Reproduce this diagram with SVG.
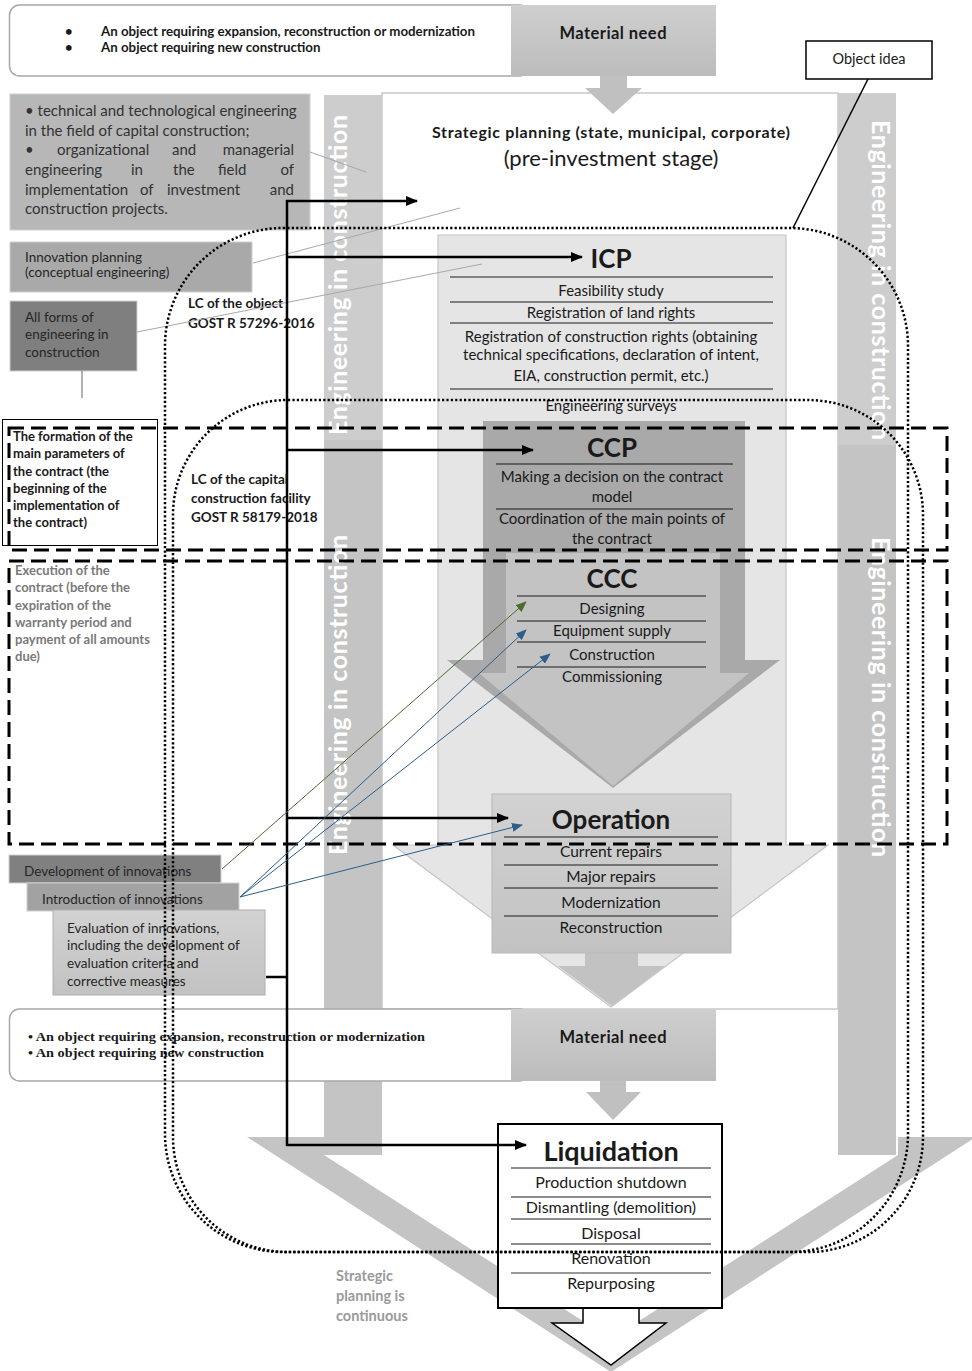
<svg xmlns="http://www.w3.org/2000/svg" width="972" height="1371" viewBox="0 0 972 1371">
<defs>
<style>
text{font-family:Lato,"Liberation Sans",sans-serif;fill:#1a1a1a}
.b{font-weight:bold}
.c{text-anchor:middle}
.e{text-anchor:end}
.bar{font-weight:bold;fill:#ffffff;font-size:25px;text-anchor:middle}
.hr{stroke:#1a1a1a;stroke-width:1}
.dot{fill:none;stroke:#000;stroke-width:2.5;stroke-dasharray:2.2 2.2}
.dash{fill:none;stroke:#000;stroke-width:3;stroke-dasharray:15 7}
.conn{fill:none;stroke:#000;stroke-width:2.5}
.thin{fill:none;stroke:#a8a8a8;stroke-width:1}
.grey{fill:#c4c4c4}
.lt{font-size:15px}
.box{stroke:#d0d0d0;stroke-width:1}
.s13{font-size:13.5px;fill:#262626}
.fb{font-size:13px;font-weight:bold}
.serif{font-family:"Liberation Serif",serif;font-weight:bold;font-size:13.5px}
.gr{font-weight:bold;font-size:14.5px;fill:#9a9a9a}
</style>
<linearGradient id="mg" x1="0" y1="0" x2="0" y2="1"><stop offset="0" stop-color="#cfcfcf"/><stop offset="1" stop-color="#bcbcbc"/></linearGradient>
<linearGradient id="eg" x1="0" y1="0" x2="0" y2="1"><stop offset="0" stop-color="#d2d2d2"/><stop offset="1" stop-color="#c2c2c2"/></linearGradient>
<marker id="ab" markerWidth="12" markerHeight="10" refX="11" refY="5" orient="auto" markerUnits="userSpaceOnUse"><path d="M0,0 L12,5 L0,10 Z" fill="#000"/></marker>
<marker id="ag" markerWidth="11" markerHeight="9" refX="10" refY="4.5" orient="auto" markerUnits="userSpaceOnUse"><path d="M0,0 L11,4.5 L0,9 Z" fill="#4e6b2e"/></marker>
<marker id="abl" markerWidth="11" markerHeight="9" refX="10" refY="4.5" orient="auto" markerUnits="userSpaceOnUse"><path d="M0,0 L11,4.5 L0,9 Z" fill="#2e5d8c"/></marker>
</defs>
<rect width="972" height="1371" fill="#ffffff"/>

<g id="frame">
<rect x="382" y="93" width="456" height="916" fill="#ffffff" stroke="#c8c8c8" stroke-width="1.5"/>
<rect x="324" y="95" width="58" height="1060" class="grey"/>
<rect x="324" y="95" width="58" height="345" fill="#cdcdcd"/>
<rect x="838" y="93" width="58" height="1062" class="grey"/>
<rect x="838" y="93" width="58" height="352" fill="#cdcdcd"/>
<path d="M247,1137 L324,1137 L324,1155 L611,1339 L898,1155 L898,1137 L976,1137 L611,1372 Z" class="grey"/>
</g>

<g id="icp">
<path d="M438,235 L786,235 L786,845 L828,845 L611,1007 L393,845 L438,845 Z" fill="#e5e5e5" stroke="#c6c6c6" stroke-width="1.2"/>
<text x="611" y="268" class="c b" font-size="26">ICP</text>
<line x1="450" y1="277" x2="773" y2="277" class="hr"/>
<text x="611" y="296" class="c lt">Feasibility study</text>
<line x1="450" y1="302" x2="773" y2="302" class="hr"/>
<text x="611" y="318" class="c lt">Registration of land rights</text>
<line x1="450" y1="323" x2="773" y2="323" class="hr"/>
<text x="611" y="342" class="c lt">Registration of construction rights (obtaining</text>
<text x="611" y="360" class="c lt">technical specifications, declaration of intent,</text>
<text x="611" y="381" class="c lt">EIA, construction permit, etc.)</text>
<line x1="450" y1="389" x2="773" y2="389" class="hr"/>
<text x="611" y="411" class="c lt">Engineering surveys</text>
</g>

<g id="ccp">
<path d="M483,421 L745,421 L745,660 L780,660 L613,788 L447,660 L483,660 Z" fill="#a9a9a9"/>
<text x="612" y="457" class="c b" font-size="26">CCP</text>
<line x1="496" y1="464" x2="733" y2="464" class="hr"/>
<text x="612" y="482" class="c lt">Making a decision on the contract</text>
<text x="612" y="502" class="c lt">model</text>
<line x1="496" y1="509" x2="733" y2="509" class="hr"/>
<text x="612" y="524" class="c lt">Coordination of the main points of</text>
<text x="612" y="544" class="c lt">the contract</text>
</g>

<g id="ccc">
<path d="M506,553 L720,553 L720,673 L749,673 L613,786 L479,673 L506,673 Z" fill="#c3c3c3"/>
<text x="612" y="588" class="c b" font-size="26">CCC</text>
<line x1="517" y1="596" x2="706" y2="596" class="hr"/>
<text x="612" y="614" class="c lt">Designing</text>
<line x1="517" y1="621" x2="706" y2="621" class="hr"/>
<text x="612" y="636" class="c lt">Equipment supply</text>
<line x1="517" y1="642" x2="706" y2="642" class="hr"/>
<text x="612" y="660" class="c lt">Construction</text>
<line x1="517" y1="667" x2="706" y2="667" class="hr"/>
<text x="612" y="682" class="c lt">Commissioning</text>
</g>

<g id="operation">
<path d="M585,953 L638,953 L638,966 L665,966 L612,1006 L558,966 L585,966 Z" fill="#c2c2c2"/>
<rect x="492" y="794" width="239" height="159" fill="url(#eg)" stroke="#b8b8b8" stroke-width="1"/>
<text x="611" y="829" class="c b" font-size="26">Operation</text>
<line x1="504" y1="837" x2="718" y2="837" class="hr"/>
<text x="611" y="857" class="c" font-size="15.5">Current repairs</text>
<line x1="504" y1="865" x2="718" y2="865" class="hr"/>
<text x="611" y="882" class="c" font-size="15.5">Major repairs</text>
<line x1="504" y1="888" x2="718" y2="888" class="hr"/>
<text x="611" y="908" class="c" font-size="15.5">Modernization</text>
<line x1="504" y1="916" x2="718" y2="916" class="hr"/>
<text x="611" y="933" class="c" font-size="15.5">Reconstruction</text>
</g>

<g id="strategic">
<text x="611" y="138" class="c b" font-size="16" textLength="358">Strategic planning (state, municipal, corporate)</text>
<text x="611" y="166" class="c" font-size="22">(pre-investment stage)</text>
</g>

<g id="material-top">
<rect x="9.5" y="5" width="520" height="71" rx="10" fill="#ffffff" stroke="#a8a8a8" stroke-width="1.5"/>
<rect x="511" y="5" width="205" height="71" fill="url(#mg)"/>
<path d="M600,76 L627,76 L627,88 L642,88 L613,114 L585,88 L600,88 Z" fill="#c0c0c0"/>
<text x="613" y="39" class="c b" font-size="16.5" textLength="107">Material need</text>
<text x="65" y="36" class="b" font-size="13">•</text>
<text x="65" y="52" class="b" font-size="13">•</text>
<text x="101" y="36" class="b" font-size="13.3" textLength="374">An object requiring expansion, reconstruction or modernization</text>
<text x="101" y="52" class="b" font-size="13.3">An object requiring new construction</text>
</g>

<g id="object-idea">
<rect x="806" y="41" width="126" height="38" fill="#ffffff" stroke="#000" stroke-width="1.5"/>
<text x="869" y="64" class="c" font-size="14.5">Object idea</text>
</g>

<g id="material-bottom">
<rect x="9.5" y="1009" width="520" height="72" rx="10" fill="#ffffff" stroke="#a8a8a8" stroke-width="1.5"/>
<rect x="511" y="1009" width="205" height="72" fill="url(#mg)"/>
<path d="M600,1081 L626,1081 L626,1092 L641,1092 L613,1120 L586,1092 L600,1092 Z" fill="#c0c0c0"/>
<text x="613" y="1043" class="c b" font-size="16.5" textLength="107">Material need</text>
<text x="28" y="1041" class="serif" textLength="397" lengthAdjust="spacingAndGlyphs">• An object requiring expansion, reconstruction or modernization</text>
<text x="28" y="1057" class="serif" textLength="236" lengthAdjust="spacingAndGlyphs">• An object requiring new construction</text>
</g>

<g id="liquidation">
<path d="M583,1308 L583,1323 L552,1323 L611,1365 L666,1323 L639,1323 L639,1308" fill="#ffffff" stroke="#000" stroke-width="1.5"/>
<rect x="498" y="1124" width="224" height="184" fill="#ffffff" stroke="#000" stroke-width="2"/>
<text x="611" y="1161" class="c b" font-size="27">Liquidation</text>
<line x1="511" y1="1168" x2="711" y2="1168" class="hr"/>
<text x="611" y="1188" class="c" font-size="16">Production shutdown</text>
<line x1="511" y1="1197" x2="711" y2="1197" class="hr"/>
<text x="611" y="1213" class="c" font-size="16">Dismantling (demolition)</text>
<line x1="511" y1="1219" x2="711" y2="1219" class="hr"/>
<text x="611" y="1239" class="c" font-size="16">Disposal</text>
<line x1="511" y1="1244" x2="711" y2="1244" class="hr"/>
<text x="611" y="1264" class="c" font-size="16">Renovation</text>
<line x1="511" y1="1273" x2="711" y2="1273" stroke="#777" stroke-width="1.5"/>
<text x="611" y="1289" class="c" font-size="16">Repurposing</text>
</g>

<g id="continuous">
<text x="336" y="1281" class="gr">Strategic</text>
<text x="336" y="1301" class="gr">planning is</text>
<text x="336" y="1321" class="gr">continuous</text>
</g>

<g id="engineering-types">
<rect x="10" y="94" width="300" height="136" fill="#b7b7b7" class="box"/>
<text x="25" y="116" font-size="15" style="fill:#333">• technical and technological engineering</text>
<text x="25" y="136" font-size="15" style="fill:#333">in the field of capital construction;</text>
<text y="155" font-size="15" style="fill:#333"><tspan x="25">•</tspan><tspan x="57">organizational</tspan><tspan x="172">and</tspan></text>
<text x="294" y="155" font-size="15" class="e" style="fill:#333">managerial</text>
<text y="175" font-size="15" style="fill:#333"><tspan x="25">engineering</tspan><tspan x="131">in</tspan><tspan x="173">the</tspan><tspan x="218">field</tspan></text>
<text x="294" y="175" font-size="15" class="e" style="fill:#333">of</text>
<text y="195" font-size="15" style="fill:#333"><tspan x="25">implementation</tspan><tspan x="140">of</tspan><tspan x="167">investment</tspan></text>
<text x="294" y="195" font-size="15" class="e" style="fill:#333">and</text>
<text x="25" y="214" font-size="15" style="fill:#333">construction projects.</text>
</g>

<g id="innovation-planning">
<rect x="10" y="242" width="242" height="50" fill="#a9a9a9" class="box"/>
<text x="25" y="262" class="s13">Innovation planning</text>
<text x="25" y="277" class="s13">(conceptual engineering)</text>
</g>

<g id="all-forms">
<rect x="10" y="301" width="127" height="70" fill="#7f7f7f" class="box"/>
<text x="25" y="322" class="s13">All forms of</text>
<text x="25" y="339" class="s13">engineering in</text>
<text x="25" y="357" class="s13">construction</text>
<line x1="82" y1="371" x2="82" y2="398" stroke="#7f7f7f" stroke-width="1.2"/>
</g>

<g id="formation">
<rect x="2.5" y="419.5" width="155" height="126" fill="#ffffff" stroke="#000" stroke-width="1"/>
<text x="13" y="441" class="fb">The formation of the</text>
<text x="13" y="458" class="fb">main parameters of</text>
<text x="13" y="476" class="fb">the contract (the</text>
<text x="13" y="493" class="fb">beginning of the</text>
<text x="13" y="510" class="fb">implementation of</text>
<text x="13" y="527" class="fb">the contract)</text>
</g>

<g id="execution">
<text x="15" y="575" class="fb" style="fill:#7a7a7a">Execution of the</text>
<text x="15" y="592" class="fb" style="fill:#7a7a7a">contract (before the</text>
<text x="15" y="610" class="fb" style="fill:#7a7a7a">expiration of the</text>
<text x="15" y="627" class="fb" style="fill:#7a7a7a">warranty period and</text>
<text x="15" y="644" class="fb" style="fill:#7a7a7a">payment of all amounts</text>
<text x="15" y="661" class="fb" style="fill:#7a7a7a">due)</text>
</g>

<g id="lc-labels">
<text x="188" y="308" class="b" font-size="13.5">LC of the object</text>
<text x="188" y="328" class="b" font-size="13.5">GOST R 57296-2016</text>
<text x="191" y="484" class="b" font-size="13.5">LC of the capital</text>
<text x="191" y="503" class="b" font-size="13.5">construction facility</text>
<text x="191" y="522" class="b" font-size="13.5">GOST R 58179-2018</text>
</g>

<g id="innovations">
<rect x="9" y="855" width="212" height="28" fill="#808080" class="box"/>
<text x="24" y="876" class="s13">Development of innovations</text>
<rect x="27" y="883" width="212" height="28" fill="#a2a2a2" class="box"/>
<text x="42" y="904" class="s13">Introduction of innovations</text>
<rect x="53" y="910" width="212" height="85" fill="url(#eg)" stroke="#b0b0b0" stroke-width="1"/>
<text x="67" y="933" class="s13">Evaluation of innovations,</text>
<text x="67" y="950" class="s13">including the development of</text>
<text x="67" y="968" class="s13">evaluation criteria and</text>
<text x="67" y="986" class="s13">corrective measures</text>
</g>

<g id="bar-labels">
<text class="bar" transform="translate(347,275) rotate(-90)" textLength="320">Engineering in construction</text>
<text class="bar" transform="translate(347,695) rotate(-90)" textLength="320">Engineering in construction</text>
<text class="bar" transform="translate(872,280) rotate(90)" textLength="320">Engineering in construction</text>
<text class="bar" transform="translate(872,697) rotate(90)" textLength="320">Engineering in construction</text>
</g>

<g id="connectors">
<line x1="310" y1="152" x2="366" y2="172" class="thin"/>
<line x1="253" y1="263" x2="460" y2="208" class="thin"/>
<line x1="137" y1="332" x2="482" y2="264" class="thin"/>
<line x1="868" y1="79" x2="793" y2="228" stroke="#000" stroke-width="1.5"/>
<rect x="165" y="228" width="743" height="1024" rx="118" class="dot"/>
<rect x="173" y="400" width="750" height="852" rx="115" class="dot"/>
<rect x="9" y="428" width="938" height="122" class="dash"/>
<rect x="9" y="561" width="938" height="283" class="dash"/>
<line x1="287" y1="200" x2="287" y2="1146" class="conn"/>
<line x1="286" y1="201" x2="417" y2="201" class="conn" marker-end="url(#ab)"/>
<line x1="286" y1="257" x2="582" y2="257" class="conn" marker-end="url(#ab)"/>
<line x1="286" y1="450" x2="533" y2="450" class="conn" marker-end="url(#ab)"/>
<line x1="286" y1="818" x2="508" y2="818" class="conn" marker-end="url(#ab)"/>
<line x1="266" y1="977" x2="287" y2="977" class="conn"/>
<line x1="286" y1="1145" x2="526" y2="1145" class="conn" marker-end="url(#ab)"/>
<line x1="222" y1="869" x2="526" y2="602" stroke="#4e6b2e" stroke-width="1" marker-end="url(#ag)"/>
<line x1="240" y1="897" x2="526" y2="630" stroke="#2e5d8c" stroke-width="1" marker-end="url(#abl)"/>
<line x1="240" y1="897" x2="550" y2="654" stroke="#2e5d8c" stroke-width="1" marker-end="url(#abl)"/>
<line x1="240" y1="897" x2="522" y2="825" stroke="#2e5d8c" stroke-width="1" marker-end="url(#abl)"/>
</g>
</svg>
